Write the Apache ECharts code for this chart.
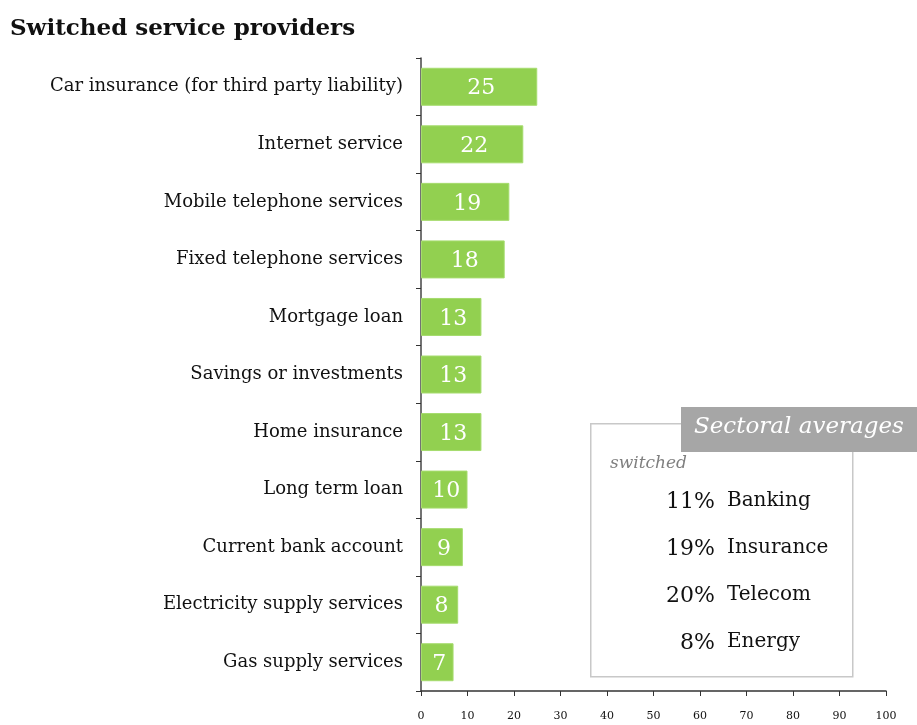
<!DOCTYPE html>
<html>
<head>
<meta charset="utf-8">
<script src="https://cdn.jsdelivr.net/npm/echarts@6/dist/echarts.min.js"></script>
<style>
  html, body { margin: 0; padding: 0; background: #fff; }
  #chart { width: 917px; height: 725px; }
</style>
</head>
<body>
<div id="chart"></div>
<script>
// Share of respondents who switched provider, by service (%)
const categories = [
  'Car insurance (for third party liability)',
  'Internet service',
  'Mobile telephone services',
  'Fixed telephone services',
  'Mortgage loan',
  'Savings or investments',
  'Home insurance',
  'Long term loan',
  'Current bank account',
  'Electricity supply services',
  'Gas supply services'
];
const switchedValues = [25, 22, 19, 18, 13, 13, 13, 10, 9, 8, 7];

const xTicks = [0, 10, 20, 30, 40, 50, 60, 70, 80, 90, 100];

// Sectoral averages panel
const sectorPercents = ['11%', '19%', '20%', '8%'];
const sectorNames = ['Banking', 'Insurance', 'Telecom', 'Energy'];

const serif = '"DejaVu Serif", "Liberation Serif", serif';

const chart = echarts.init(document.getElementById('chart'));

const panelItems = [];
sectorPercents.forEach((p, i) => {
  const y = 504 + i * 47;
  panelItems.push({
    type: 'text', right: 917 - 715, top: y - 13,
    style: { text: p, font: '22px ' + serif, fill: '#111', textAlign: 'right' }
  });
  panelItems.push({
    type: 'text', left: 727, top: y - 13,
    style: { text: sectorNames[i], font: '20px ' + serif, fill: '#111' }
  });
});

chart.setOption({
  animation: false,
  title: {
    text: 'Switched service providers',
    left: 5, top: 13,
    textStyle: { fontFamily: serif, fontWeight: 'bold', fontSize: 23, color: '#111' }
  },
  grid: { left: 421, right: 31, top: 58, bottom: 34, containLabel: false },
  xAxis: {
    type: 'value', min: 0, max: 100, interval: 10,
    axisLine: { show: true, lineStyle: { color: '#333', width: 1.5 } },
    axisTick: { show: true, length: 5, lineStyle: { color: '#333' } },
    splitLine: { show: false },
    axisLabel: {
      margin: 20, fontFamily: serif, fontSize: 11, color: '#111',
      formatter: v => xTicks.includes(v) ? String(v) : ''
    }
  },
  yAxis: {
    type: 'category', data: categories, inverse: true,
    axisLine: { show: true, lineStyle: { color: '#444', width: 1.5 } },
    axisTick: { show: true, length: 5, lineStyle: { color: '#333' } },
    axisLabel: { margin: 18, fontFamily: serif, fontSize: 18, color: '#111', padding: [7, 0, 0, 0] }
  },
  series: [{
    type: 'bar',
    data: switchedValues,
    barWidth: 38,
    itemStyle: { color: '#92D050', borderColor: '#a6dc6e', borderWidth: 1 },
    label: {
      show: true, position: 'inside',
      fontFamily: serif, fontSize: 22, color: '#fff', offset: [2, 2]
    }
  }],
  graphic: [
    {
      type: 'rect', left: 590, top: 423,
      shape: { width: 262, height: 253 },
      style: { fill: '#fff', stroke: '#c8c8c8', lineWidth: 1.5 }
    },
    {
      type: 'rect', left: 681, top: 407,
      shape: { width: 236, height: 45 },
      style: { fill: '#a6a6a6' }
    },
    {
      type: 'text', left: 694, top: 416,
      style: { text: 'Sectoral averages', font: 'italic 23px ' + serif, fill: '#fff' }
    },
    {
      type: 'text', left: 610, top: 455,
      style: { text: 'switched', font: 'italic 17px ' + serif, fill: '#7f7f7f' }
    },
    ...panelItems
  ]
});
</script>
</body>
</html>
